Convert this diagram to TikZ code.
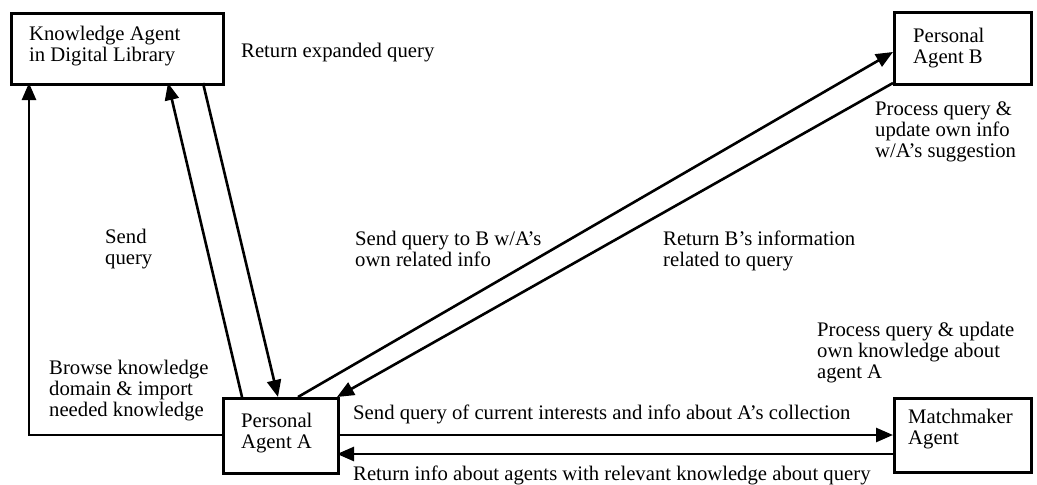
\documentclass[tikz,border=0pt]{standalone}
\usepackage{fontspec}
\setmainfont{Liberation Serif}
\usetikzlibrary{arrows.meta}
\newcommand{\ml}[1]{\begin{tabular}[t]{@{}l@{}}#1\end{tabular}}
\begin{document}
\begin{tikzpicture}[x=1pt,y=-1pt,
  every node/.style={font=\fontsize{20.7}{21}\selectfont},
  box/.style={draw,line width=2.5pt,rectangle,inner sep=0pt,anchor=north west},
  txt/.style={anchor=base west,inner sep=0pt,align=left},
  conn/.style={line width=2.6pt,-{Triangle[length=17pt,width=14pt]}},
  plain/.style={line width=2.6pt}]
\useasboundingbox (0,0) rectangle (1037,485);
% boxes
\node[box,minimum width=212pt,minimum height=71pt] (ka) at (10,12) {};
\node[box,minimum width=115pt,minimum height=75pt] (pa) at (222,397) {};
\node[box,minimum width=137pt,minimum height=72pt] (pb) at (893,11) {};
\node[box,minimum width=137pt,minimum height=74pt] (mm) at (893,397) {};
% box texts
\node[txt] (kat) at (29,40) {\ml{Knowledge Agent\\in Digital Library}};
\node[txt] (pat) at (241,427) {\ml{Personal\\Agent A}};
\node[txt] (pbt) at (913,42) {\ml{Personal\\Agent B}};
\node[txt] (mmt) at (908,423) {\ml{Matchmaker\\Agent}};
% connector points
\coordinate (browseA) at (222,435);
\coordinate (browseC) at (29,435);
\coordinate (kaBL) at (29,83);
\coordinate (sqA) at (242,397);
\coordinate (sqK) at (168,83);
\coordinate (reK) at (203,83);
\coordinate (reA) at (278,397);
\coordinate (sbA) at (298,397);
\coordinate (sbB) at (893,52);
\coordinate (rbB) at (893,83);
\coordinate (rbA) at (337,397);
\coordinate (smA) at (337,435);
\coordinate (smM) at (893,435);
\coordinate (rmM) at (893,454);
\coordinate (rmA) at (337,454);
% connectors
\draw[conn] (browseA) -- (browseC) -- (kaBL);
\draw[conn] (sqA) -- (sqK);
\draw[conn] (reK) -- (reA);
\draw[conn] (sbA) -- (sbB);
\draw[conn] (rbB) -- (rbA);
\draw[conn] (smA) -- (smM);
\draw[conn] (rmM) -- (rmA);
% labels
\node[txt] (l1) at (241,57) {Return expanded query};
\node[txt] (l2) at (105,243) {\ml{Send\\query}};
\node[txt] (l3) at (355,245) {\ml{Send query to B w/A’s\\own related info}};
\node[txt] (l4) at (663,245) {\ml{Return B’s information\\related to query}};
\node[txt] (l5) at (875,115) {\ml{Process query \&\\update own info\\w/A’s suggestion}};
\node[txt] (l6) at (817,336) {\ml{Process query \& update\\own knowledge about\\agent A}};
\node[txt] (l7) at (49,374) {\ml{Browse knowledge\\domain \& import\\needed knowledge}};
\node[txt] (l8) at (353,419) {Send query of current interests and info about A’s collection};
\node[txt] (l9) at (353,480) {Return info about agents with relevant knowledge about query};
\end{tikzpicture}
\end{document}
